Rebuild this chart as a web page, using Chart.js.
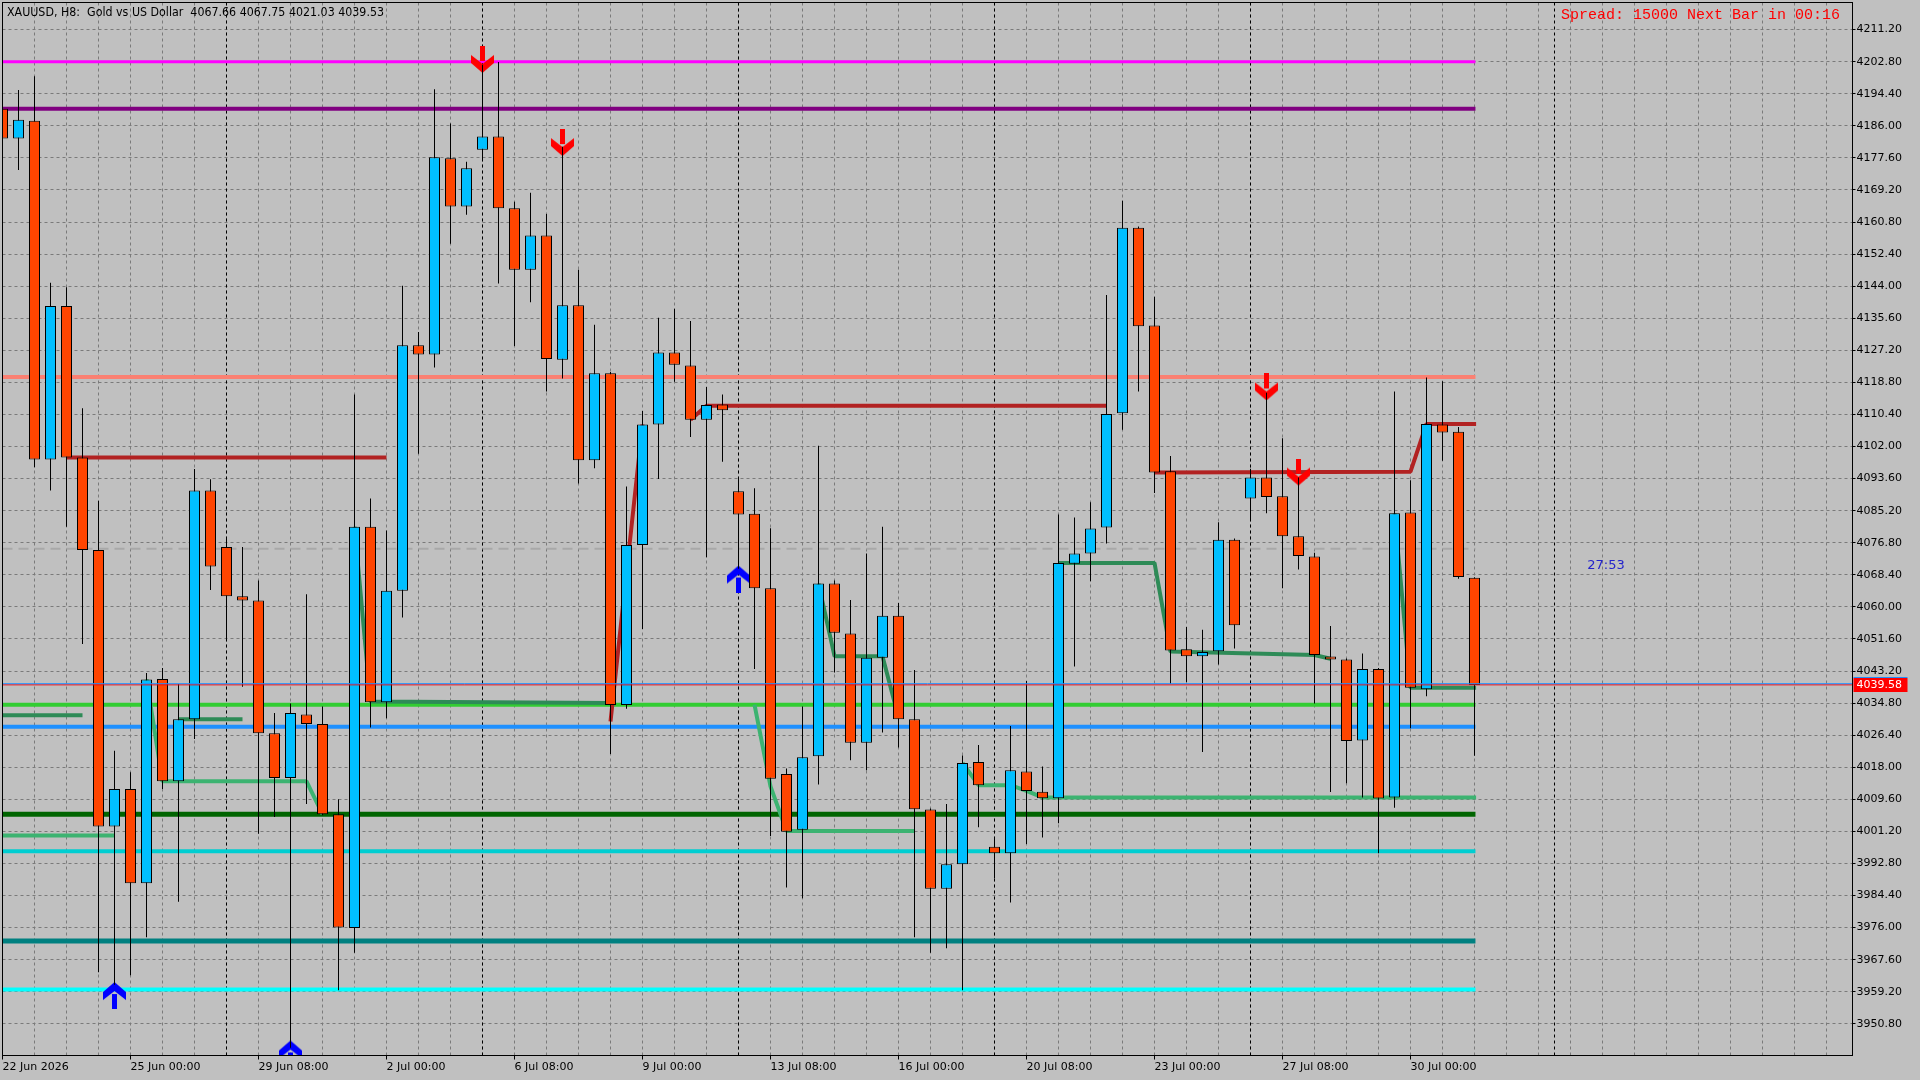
<!DOCTYPE html>
<html>
<head>
<meta charset="utf-8">
<script src="https://cdn.jsdelivr.net/npm/chart.js@4.4.1/dist/chart.umd.min.js"></script>
<style>
html,body{margin:0;padding:0;background:#C0C0C0;overflow:hidden;}
canvas{display:block;}
</style>
</head>
<body>
<canvas id="c" width="1920" height="1080" style="width:1920px;height:1080px"></canvas>
<script>
// ---------------- DATA ----------------
const titleText = 'XAUUSD, H8:  Gold vs US Dollar  4067.66 4067.75 4021.03 4039.53';
const spreadText = 'Spread: 15000 Next Bar in 00:16';
const timerText = '27:53';
const timerPos = [99.05, 4070.7];          // [bar, price]

const opens  = [4190.5,4182.7,4187.3,4098.6,4138.8,4099.1,4074.9,4002.5,4012.3,3987.6,
                4041.1,4014.3,4030.6,4090.5,4075.7,4062.8,4061.7,4026.9,4015.2,4031.8,
                4029.3,4005.7,3975.9,4081.0,4035.0,4064.2,4128.5,4126.1,4177.5,4164.9,
                4179.7,4183.2,4164.4,4148.3,4157.3,4124.7,4139.0,4098.4,4121.2,4034.3,
                4076.2,4107.8,4126.6,4123.2,4109.0,4113.0,4090.3,4084.4,4064.9,4016.2,
                4001.6,4020.9,4066.1,4053.0,4024.4,4046.7,4057.7,4030.6,4006.9,3986.2,
                3992.6,4019.4,3997.2,3995.5,4016.9,4011.6,4009.9,4071.3,4074.0,4080.8,
                4110.7,4159.3,4133.7,4095.5,4048.9,4047.1,4048.4,4077.6,4088.4,4093.9,
                4089.0,4078.5,4073.2,4046.9,4046.2,4025.0,4043.7,4010.1,4084.7,4038.4,
                4107.8,4105.9,4067.66];
const highs  = [4191.2,4195.4,4199.0,4144.9,4143.7,4112.0,4087.8,4022.3,4016.7,4042.7,
                4044.0,4039.8,4096.1,4093.4,4078.3,4075.7,4066.9,4032.2,4034.7,4063.3,
                4033.9,4009.6,4115.6,4088.4,4080.0,4144.1,4132.0,4195.6,4186.6,4176.6,
                4202.0,4202.7,4166.1,4168.5,4162.9,4180.5,4148.3,4133.9,4121.5,4091.5,
                4111.3,4135.7,4138.1,4134.9,4117.6,4115.6,4094.0,4091.1,4080.6,4017.7,
                4033.9,4102.2,4066.9,4061.8,4074.0,4081.0,4061.0,4043.5,4007.2,4008.4,
                4021.1,4023.8,3999.6,4028.8,4040.6,4018.2,4084.2,4083.4,4087.4,4141.7,
                4166.4,4159.6,4141.2,4099.5,4054.7,4054.0,4082.2,4077.9,4096.2,4116.1,
                4104.2,4093.9,4074.2,4055.0,4046.5,4047.8,4044.0,4116.4,4093.2,4120.1,
                4119.1,4107.1,4067.75];
const lows   = [4181.8,4174.4,4096.6,4090.5,4081.0,4050.3,3964.3,3961.0,3963.5,3973.5,
                4012.3,3982.8,4025.4,4064.4,4051.5,4039.1,4000.6,4005.0,3944.5,4008.4,
                4005.4,3959.6,3969.4,4028.4,4030.8,4057.2,4100.1,4122.7,4155.1,4162.7,
                4177.0,4144.7,4128.3,4139.8,4116.4,4119.8,4092.3,4096.3,4021.5,4033.3,
                4054.2,4093.5,4119.0,4104.5,4073.0,4098.0,4070.0,4043.7,4000.0,3986.5,
                3983.7,4013.5,4042.8,4019.8,4017.2,4027.1,4023.2,3973.5,3969.4,3970.6,
                3959.6,4002.3,3988.9,3982.6,3997.9,3999.6,4003.3,4044.4,4066.7,4076.6,
                4106.4,4116.4,4089.8,4039.8,4040.3,4022.0,4044.9,4049.1,4082.7,4084.5,
                4064.9,4069.8,4034.7,4011.5,4013.8,4010.1,3995.5,4007.4,4028.2,4036.6,
                4098.3,4067.4,4021.03];
const closes = [4182.7,4187.6,4098.6,4138.8,4099.1,4074.9,4002.5,4012.3,3987.6,4041.0,
                4014.3,4030.6,4090.5,4070.6,4062.8,4061.7,4026.9,4015.2,4032.2,4029.3,
                4005.7,3976.0,4081.0,4035.0,4064.2,4128.5,4126.1,4177.8,4164.9,4174.9,
                4183.2,4164.4,4148.3,4157.3,4124.9,4139.0,4098.4,4121.2,4034.3,4076.2,
                4107.8,4126.6,4123.4,4109.0,4112.9,4111.5,4084.2,4064.9,4015.0,4001.1,
                4020.6,4066.1,4053.2,4024.4,4046.7,4057.7,4030.6,4007.0,3986.2,3992.6,
                4019.1,4013.3,3995.5,4017.2,4011.8,4009.9,4071.5,4074.0,4080.5,4110.5,
                4159.3,4133.5,4095.2,4048.6,4047.1,4048.2,4077.6,4055.2,4093.9,4088.8,
                4078.5,4073.3,4047.4,4046.2,4024.9,4043.7,4009.8,4084.5,4038.8,4107.9,
                4105.7,4067.8,4039.53];

const xTickBars   = [0,8,16,24,32,40,48,56,64,72,80,88];
const xTickLabels = ['22 Jun 2026','25 Jun 00:00','29 Jun 08:00','2 Jul 00:00','6 Jul 08:00','9 Jul 00:00',
                     '13 Jul 08:00','16 Jul 00:00','20 Jul 08:00','23 Jul 00:00','27 Jul 08:00','30 Jul 00:00'];
const yTickLabels = ['4211.20','4202.80','4194.40','4186.00','4177.60','4169.20','4160.80','4152.40',
                     '4144.00','4135.60','4127.20','4118.80','4110.40','4102.00','4093.60','4085.20',
                     '4076.80','4068.40','4060.00','4051.60','4043.20','4034.80','4026.40','4018.00',
                     '4009.60','4001.20','3992.80','3984.40','3976.00','3967.60','3959.20','3950.80'];
const separatorBars = [14,30,46,62,78,97];

// horizontal levels
const levelPrices = [4202.8, 4190.5, 4120.2, 4034.35, 4028.6, 4005.7, 3996.0, 3972.5, 3959.8];
const dashedLevel = 4075.2;
const bidPrice = 4039.58;

// step lines: segments of [bar, price]
const resistSegs = [
  [[4,4099.1],[24,4099.1]],
  [[38,4030.0],[40,4107.8]],
  [[43,4109.0],[44,4112.7],[69,4112.7]],
  [[72,4095.2],[88,4095.4],[89,4107.9],[92.1,4107.9]]
];
const supportASegs = [
  [[-1,4000.1],[7,4000.1]],
  [[9,4041.0],[10,4014.3],[19,4014.3],[20,4005.7]],
  [[47,4034.4],[48,4013.0],[49,4001.3],[57,4001.3]],
  [[60,4019.1],[61,4013.3],[63,4013.3],[64,4011.8],[65,4010.1],[92.1,4010.1]]
];
const supportBSegs = [
  [[-1,4031.6],[5,4031.6]],
  [[11,4030.6],[15,4030.6]],
  [[22,4081.0],[23,4035.2],[38,4034.8]],
  [[51,4066.1],[52,4047.1],[55,4047.1],[56,4031.0]],
  [[66,4071.5],[72,4071.5],[73,4048.3],[82,4047.4],[83,4046.4]],
  [[87,4084.5],[88,4038.8],[92.1,4038.8]]
];

// signal arrows
const downArrowBars   = [30, 35, 79, 81];
const downArrowPrices = [4203.4, 4181.6, 4117.6, 4095.3];
const upArrowBars     = [7, 18, 46];
const upArrowPrices   = [3958.2, 3942.9, 4067.3];

// ---------------- STYLES ----------------
const levelColors = ['#FF00FF','#800080','#FA8072','#32CD32','#1E90FF','#006400','#00CED1','#008080','#00FFFF'];
const levelWidths = [3,4,4,4,4,5,4,5,4];
const BULL = '#00BFFF', BEAR = '#FF4500', GRID = '#7a7a7a';
const LINE_START = -1, LINE_END = 92.06;

function makeArrow(color, up) {
  const c = document.createElement('canvas');
  c.width = 23; c.height = 27;
  const g = c.getContext('2d');
  g.fillStyle = color;
  if (up) { g.translate(0, 27); g.scale(1, -1); }
  g.fillRect(9, 0, 5, 15);
  g.beginPath();
  g.moveTo(0, 9); g.lineTo(11.5, 18); g.lineTo(23, 9);
  g.lineTo(23, 17); g.lineTo(11.5, 27); g.lineTo(0, 17);
  g.closePath(); g.fill();
  return c;
}
const arrowDownImg = makeArrow('#FF0000', false);
const arrowUpImg = makeArrow('#0000FF', true);

function segData(segs) {
  const out = [];
  segs.forEach((s, i) => {
    if (i) out.push({x: s[0][0] - 0.5, y: null});
    s.forEach(p => out.push({x: p[0], y: p[1]}));
  });
  return out;
}

const idx = opens.map((_, i) => i);
const bodies = idx.map(i => ({x: i, y: [opens[i], closes[i]]}));
const wicks  = idx.map(i => ({x: i, y: [lows[i], highs[i]]}));
const bodyColors = idx.map(i => closes[i] >= opens[i] ? BULL : BEAR);
const gridBars = [];
for (let b = 0; b <= 114; b += 2) gridBars.push(b);
const yTickValues = yTickLabels.map(parseFloat);

const datasets = [];
// bid lines (top)
datasets.push({type:'line', data:[{x:LINE_START,y:bidPrice+0.3},{x:120,y:bidPrice+0.3}], borderColor:'#1E90FF', borderWidth:1, pointRadius:0, order:0, clip:0});
datasets.push({type:'line', data:[{x:LINE_START,y:bidPrice},{x:120,y:bidPrice}], borderColor:'#FF0000', borderWidth:1, pointRadius:0, order:0, clip:0});
// candle bodies
datasets.push({type:'bar', data:bodies, backgroundColor:bodyColors, borderColor:'#000', borderWidth:1,
  borderSkipped:false, barThickness:11, minBarLength:3, grouped:false, inflateAmount:0, order:1, clip:0});
// wicks
datasets.push({type:'bar', data:wicks, backgroundColor:'#000', borderWidth:0,
  barThickness:1, minBarLength:1, grouped:false, inflateAmount:0, order:2, clip:0});
// arrows
datasets.push({type:'line', showLine:false, data:downArrowBars.map((b,i)=>({x:b,y:downArrowPrices[i]})),
  pointStyle:arrowDownImg, pointRadius:12, order:3, clip:0});
datasets.push({type:'line', showLine:false, data:upArrowBars.map((b,i)=>({x:b,y:upArrowPrices[i]})),
  pointStyle:arrowUpImg, pointRadius:12, order:3, clip:0});
// step lines
const stepCommon = {type:'line', pointRadius:0, borderWidth:4, spanGaps:false, tension:0, borderJoinStyle:'bevel', borderCapStyle:'butt', order:4, clip:0};
datasets.push(Object.assign({}, stepCommon, {data:segData(resistSegs), borderColor:'#B22222'}));
datasets.push(Object.assign({}, stepCommon, {data:segData(supportASegs), borderColor:'#3CB371'}));
datasets.push(Object.assign({}, stepCommon, {data:segData(supportBSegs), borderColor:'#2E8B57'}));
// horizontal levels
levelPrices.forEach((p, i) => {
  datasets.push({type:'line', data:[{x:LINE_START,y:p},{x:LINE_END,y:p}], borderColor:levelColors[i],
    borderWidth:levelWidths[i], pointRadius:0, borderCapStyle:'butt', order:5, clip:0});
});
datasets.push({type:'line', data:[{x:LINE_START,y:dashedLevel},{x:LINE_END,y:dashedLevel}], borderColor:'#A8A8A8',
  borderWidth:2, borderDash:[10,6], pointRadius:0, order:5, clip:0});

const decor = {
  id: 'decor',
  beforeDatasetsDraw(chart) {
    const {ctx, chartArea: a, scales: {x}} = chart;
    ctx.save();
    ctx.beginPath(); ctx.rect(a.left, a.top, a.right - a.left, a.bottom - a.top); ctx.clip();
    ctx.strokeStyle = '#000'; ctx.lineWidth = 1; ctx.setLineDash([3, 3]);
    separatorBars.forEach(b => {
      const px = Math.floor(x.getPixelForValue(b)) + 0.5;
      ctx.beginPath(); ctx.moveTo(px, a.top); ctx.lineTo(px, a.bottom); ctx.stroke();
    });
    ctx.restore();
  },
  afterDraw(chart) {
    const {ctx, chartArea: a, scales: {x, y}} = chart;
    ctx.save();
    // frame
    ctx.strokeStyle = '#000'; ctx.lineWidth = 1; ctx.setLineDash([]);
    ctx.strokeRect(a.left, a.top, a.right - a.left, a.bottom - a.top);
    // title
    ctx.fillStyle = '#000';
    ctx.font = '11.5px "DejaVu Sans"';
    ctx.textAlign = 'left'; ctx.textBaseline = 'alphabetic';
    ctx.fillText(titleText, 7, 16, 377);
    // spread
    ctx.fillStyle = '#FF0000';
    ctx.font = '15px "Liberation Mono"';
    ctx.textAlign = 'right';
    ctx.fillText(spreadText, 1840, 19);
    // timer
    ctx.fillStyle = '#2323CC';
    ctx.font = '13px "DejaVu Sans"';
    ctx.textAlign = 'left'; ctx.textBaseline = 'middle';
    ctx.fillText(timerText, x.getPixelForValue(timerPos[0]), y.getPixelForValue(timerPos[1]));
    // bid price label
    const py = y.getPixelForValue(bidPrice);
    ctx.fillStyle = '#FF0000';
    ctx.fillRect(a.right + 1, Math.round(py) - 7, 54, 14);
    ctx.fillStyle = '#1E90FF';
    ctx.fillRect(a.right + 1, Math.round(py) - 8, 54, 1);
    ctx.fillStyle = '#FFFFFF';
    ctx.font = '11px "DejaVu Sans"';
    ctx.textBaseline = 'middle';
    ctx.fillText(bidPrice.toFixed(2), a.right + 4, Math.round(py));
    ctx.restore();
  }
};

function zeroPad(s) { s.paddingLeft = 0; s.paddingRight = 0; s.paddingTop = 0; s.paddingBottom = 0; }

new Chart(document.getElementById('c'), {
  type: 'bar',
  data: {datasets},
  options: {
    responsive: false,
    maintainAspectRatio: false,
    devicePixelRatio: 1,
    animation: false,
    events: [],
    layout: {autoPadding: false, padding: {left: 2.5, top: 2.5, right: 0, bottom: 0}},
    plugins: {legend: {display: false}, tooltip: {enabled: false}, title: {display: false}},
    scales: {
      x: {
        type: 'linear', position: 'bottom', min: 0, max: 115.625, offset: false,
        afterBuildTicks: ax => { ax.ticks = gridBars.map(v => ({value: v})); },
        afterFit: s => { s.height = 24.5; zeroPad(s); },
        ticks: {
          autoSkip: false, maxRotation: 0, minRotation: 0, align: 'start', padding: 1,
          color: '#000', font: {family: 'DejaVu Sans', size: 11},
          callback: v => { const k = xTickBars.indexOf(v); return k >= 0 ? xTickLabels[k] : ''; }
        },
        grid: {
          offset: false, color: GRID, lineWidth: 1, drawTicks: true, tickLength: 4,
          tickColor: c => (c.tick && xTickBars.includes(c.tick.value)) ? '#000' : 'rgba(0,0,0,0)'
        },
        border: {display: true, color: '#000', width: 1, dash: [3, 3]}
      },
      y: {
        type: 'linear', position: 'right', min: 3942.5, max: 4218.3, beginAtZero: false,
        afterBuildTicks: ax => { ax.ticks = yTickValues.map(v => ({value: v})); },
        afterFit: s => { s.width = 67.5; zeroPad(s); },
        ticks: {
          padding: 1, color: '#000', font: {family: 'DejaVu Sans', size: 11},
          callback: (v, i) => yTickLabels[i]
        },
        grid: {color: GRID, lineWidth: 1, drawTicks: true, tickLength: 3, tickColor: '#000'},
        border: {display: true, color: '#000', width: 1, dash: [3, 3]}
      }
    }
  },
  plugins: [decor]
});
</script>
</body>
</html>
